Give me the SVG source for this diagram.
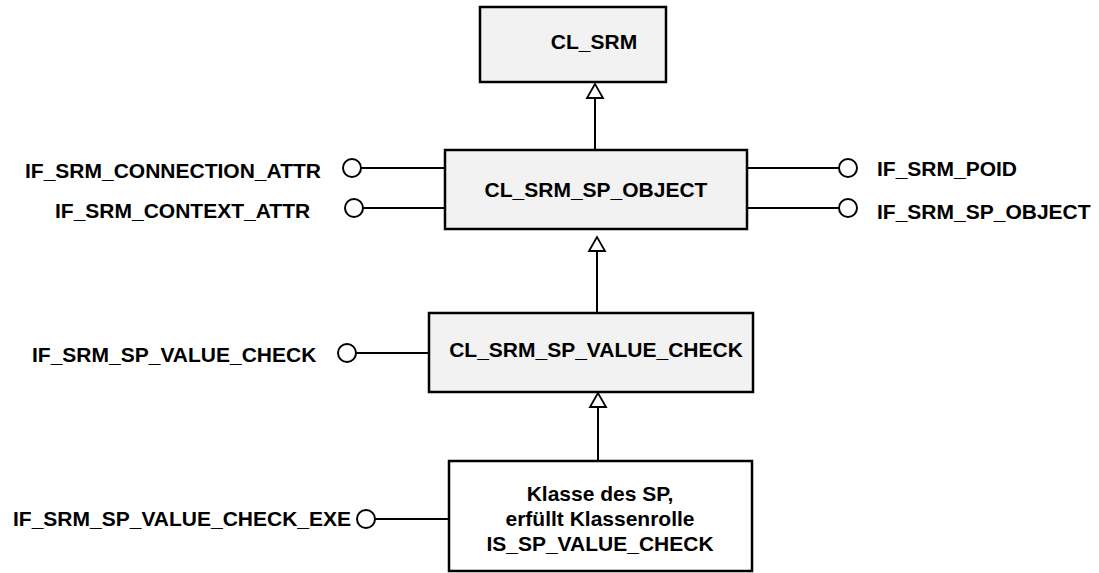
<svg xmlns="http://www.w3.org/2000/svg" width="1099" height="573" viewBox="0 0 1099 573">
<style>
.box{fill:#f2f2f2;stroke:#000;stroke-width:2.5}
.wbox{fill:#fff;stroke:#000;stroke-width:2.5}
.ln{stroke:#000;stroke-width:2;fill:none}
.ifc{fill:#fff;stroke:#000;stroke-width:2}
.tri{fill:#fff;stroke:#000;stroke-width:1.8}
text{font-family:"Liberation Sans",Arial,sans-serif;font-weight:bold;font-size:21px;fill:#000}
.c{text-anchor:middle}
</style>
<rect width="1099" height="573" fill="#fff"/>
<g id="connectors">
<line class="ln" x1="595" y1="98" x2="595" y2="150"/>
<polygon class="tri" points="595,84 587,98 603,98"/>
<line class="ln" x1="597" y1="251" x2="597" y2="313"/>
<polygon class="tri" points="597,237 589,251 605,251"/>
<line class="ln" x1="598" y1="407" x2="598" y2="461"/>
<polygon class="tri" points="598,393 590,407 606,407"/>
<line class="ln" x1="361" y1="168" x2="445" y2="168"/>
<circle class="ifc" cx="352" cy="168" r="9"/>
<line class="ln" x1="363" y1="208" x2="445" y2="208"/>
<circle class="ifc" cx="354" cy="208" r="9"/>
<line class="ln" x1="747" y1="168" x2="839" y2="168"/>
<circle class="ifc" cx="848" cy="168" r="9"/>
<line class="ln" x1="747" y1="208" x2="839" y2="208"/>
<circle class="ifc" cx="848" cy="208" r="9"/>
<line class="ln" x1="356" y1="353" x2="429" y2="353"/>
<circle class="ifc" cx="347" cy="353" r="9"/>
<line class="ln" x1="375" y1="519" x2="449" y2="519"/>
<circle class="ifc" cx="366" cy="519" r="9"/>
</g>
<g id="cl_srm">
<rect class="box" x="480" y="7" width="186" height="75"/>
<text class="c" x="594" y="49">CL_SRM</text>
</g>
<g id="cl_srm_sp_object">
<rect class="box" x="445" y="150" width="302" height="79"/>
<text class="c" x="596" y="197">CL_SRM_SP_OBJECT</text>
</g>
<g id="cl_srm_sp_value_check">
<rect class="box" x="429" y="313" width="324" height="79"/>
<text class="c" x="596" y="357">CL_SRM_SP_VALUE_CHECK</text>
</g>
<g id="sp_class">
<rect class="wbox" x="449" y="461" width="303" height="110"/>
<text class="c" x="600" y="501">Klasse des SP,</text>
<text class="c" x="600" y="526">erfüllt Klassenrolle</text>
<text class="c" x="600" y="551">IS_SP_VALUE_CHECK</text>
</g>
<g id="if_labels">
<text x="25" y="178">IF_SRM_CONNECTION_ATTR</text>
<text x="55" y="218">IF_SRM_CONTEXT_ATTR</text>
<text x="877" y="176">IF_SRM_POID</text>
<text x="877" y="219">IF_SRM_SP_OBJECT</text>
<text x="32" y="362">IF_SRM_SP_VALUE_CHECK</text>
<text x="13" y="526">IF_SRM_SP_VALUE_CHECK_EXE</text>
</g>
</svg>
